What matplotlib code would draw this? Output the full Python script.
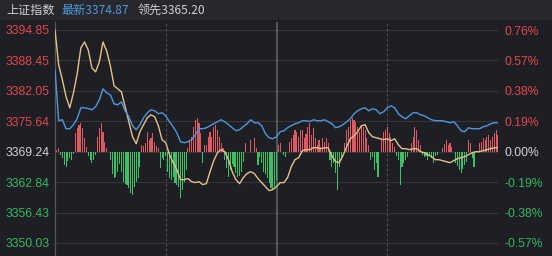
import numpy as np
import matplotlib
matplotlib.use("Agg")
import matplotlib.pyplot as plt
from matplotlib.patches import Rectangle

# ---------------- data ----------------
PREV_CLOSE = 3369.24
PRICE_TICKS = [3394.85, 3388.45, 3382.05, 3375.64, 3369.24, 3362.84, 3356.43, 3350.03]
PCT_TICKS = [0.76, 0.57, 0.38, 0.19, 0.00, -0.19, -0.38, -0.57]

# index (blue) and leading index (yellow), sampled every 2 minutes, 240-minute session
LINE_MINUTES = list(range(0, 241, 2))
index_price = [
    3386.45, 3375.75, 3375.96, 3374.07, 3374.07, 3374.91, 3376.17, 3378.48, 3378.48, 3378.30,
    3378.06, 3378.69, 3380.15, 3382.46, 3381.62, 3381.20, 3379.31, 3379.10, 3379.73, 3377.85,
    3376.59, 3374.70, 3373.86, 3374.91, 3376.38, 3377.43, 3378.06, 3377.85, 3377.22, 3377.43,
    3376.80, 3375.54, 3374.49, 3373.23, 3371.34, 3371.13, 3371.34, 3371.76, 3372.81, 3374.07,
    3374.07, 3374.28, 3374.70, 3375.12, 3375.54, 3375.96, 3375.54, 3374.91, 3374.28, 3373.65,
    3373.86, 3374.49, 3375.12, 3375.96, 3375.33, 3375.33, 3374.70, 3373.02, 3372.18, 3371.97,
    3372.39, 3373.44, 3373.65, 3374.28, 3374.70, 3375.12, 3375.33, 3375.75, 3375.75, 3375.60,
    3375.96, 3375.75, 3375.75, 3375.96, 3375.54, 3375.12, 3374.28, 3374.49, 3374.91, 3375.54,
    3376.17, 3377.22, 3377.85, 3378.27, 3378.48, 3377.85, 3378.27, 3378.06, 3377.22, 3377.64,
    3378.48, 3378.89, 3378.48, 3377.22, 3376.59, 3376.17, 3376.80, 3377.43, 3377.43, 3377.01,
    3376.80, 3376.38, 3375.96, 3375.75, 3375.75, 3375.75, 3375.54, 3375.33, 3375.54, 3374.70,
    3373.65, 3373.44, 3374.28, 3374.07, 3374.07, 3374.07, 3374.49, 3374.70, 3375.12, 3375.33,
    3375.33,
]
leading_price = [
    3394.85, 3387.50, 3384.35, 3380.78, 3378.48, 3381.62, 3385.61, 3391.07, 3392.33, 3390.65,
    3386.87, 3386.03, 3388.13, 3392.33, 3390.44, 3387.29, 3383.09, 3382.46, 3381.83, 3378.69,
    3375.54, 3372.39, 3370.92, 3373.44, 3374.91, 3376.38, 3377.01, 3376.59, 3374.70, 3371.76,
    3371.13, 3368.61, 3366.93, 3365.46, 3363.36, 3363.36, 3363.57, 3362.94, 3362.73, 3362.94,
    3362.31, 3362.52, 3365.04, 3367.35, 3369.03, 3369.66, 3369.24, 3367.56, 3365.04, 3363.36,
    3362.52, 3363.78, 3364.62, 3365.04, 3364.62, 3363.57, 3362.73, 3361.89, 3361.05, 3361.26,
    3361.89, 3362.73, 3362.73, 3363.78, 3366.09, 3367.56, 3367.98, 3369.45, 3369.66, 3369.66,
    3370.08, 3370.08, 3369.87, 3370.08, 3370.08, 3368.40, 3367.14, 3366.93, 3368.40, 3370.29,
    3371.97, 3372.60, 3373.44, 3374.70, 3374.91, 3373.23, 3372.39, 3372.18, 3371.97, 3371.76,
    3371.97, 3371.55, 3371.97, 3370.71, 3369.87, 3369.87, 3369.66, 3369.87, 3369.87, 3369.24,
    3369.03, 3368.61, 3368.19, 3367.56, 3367.56, 3367.35, 3367.14, 3366.93, 3367.35, 3367.77,
    3367.98, 3368.19, 3368.61, 3369.03, 3369.24, 3369.24, 3369.45, 3369.66, 3369.87, 3370.08,
    3370.08,
]

# per-minute buying/selling strength bars (arbitrary units)
BAR_MINUTES = list(range(241))
strength = [
    0, 2, 4, -3, -6, -13, -15, -9, -6, -8,
    -2, 19, 24, 27, 29, 24, 14, 5, -4, -8,
    -11, -8, -3, 15, 24, 29, 20, 10, 4, 0,
    -8, -22, -26, -25, -20, -12, -20, -30, -32, -33,
    -36, -41, -43, -35, -30, -26, -15, 7, 6, 9,
    20, 12, 14, 19, 10, 6, 4, -16, -6, -8,
    -4, -20, -26, -28, -25, -31, -33, -35, -46, -38,
    -30, -18, 4, 12, 15, 25, 32, 34, 29, 19,
    -11, 7, 7, 15, 20, 15, 25, 27, 22, 15,
    9, 4, -8, -16, -25, -18, -12, -15, -21, -25,
    -24, -20, -10, 9, 0, 0, 12, 0, 14, 4,
    -13, -5, -11, -20, -22, -26, -31, -36, -38, -35,
    -28, 7, 9, 0, -3, -5, 0, 10, 14, 17,
    22, 20, 15, 22, 22, 14, 18, 25, 29, 17,
    24, 14, 7, 12, 5, 14, 10, 14, 9, -8,
    -15, -11, -21, -38, -15, -8, 0, 9, 22, 25,
    32, 34, 32, 30, 25, 20, 27, 25, 22, 14,
    7, -8, -5, -18, -11, -25, 0, 12, 20, 22,
    25, 19, 15, 9, 5, -4, -8, -33, -15, -11,
    -8, -5, 0, 9, 15, 25, 22, 12, 7, -3,
    -5, -4, -8, -3, -6, -11, -4, -3, 0, 0,
    4, 8, 12, 7, 9, 5, 0, -11, -14, -18,
    -21, -17, -13, -10, 12, 9, -6, -15, 0, 0,
    9, 10, 14, 12, 15, 17, 12, 15, 19, 22,
    17,
]

TITLE = "上证指数"
LATEST_LABEL = "最新3374.87"
LEAD_LABEL = "领先3365.20"

# ---------------- style ----------------
BG = "#1e1f24"
HEADER_BG = "#27282d"
GRID = "#34353a"
RED = "#e2474f"
GREEN = "#35b860"
NEUTRAL = "#d2d2d2"
BLUE = "#4f97dc"
YELLOW = "#e6c088"
BAR_RED = "#dd5a63"
BAR_GREEN = "#3cc266"
BAR_UNIT = 0.21  # index points per strength unit (display scale)

plt.rcParams["font.family"] = ["Liberation Sans", "Noto Sans CJK SC", "DejaVu Sans"]

W, H = 552, 256
fig = plt.figure(figsize=(W / 100, H / 100), dpi=100, facecolor=BG)
fig.patches.append(Rectangle((0, 1 - 20 / H), 1, 20 / H, transform=fig.transFigure,
                             facecolor=HEADER_BG, edgecolor="none", zorder=0))

ax = fig.add_axes([55 / W, 0, (498 - 55) / W, (256 - 22) / H])
ax.set_facecolor(BG)
ax.set_xlim(0, 240)
ax.set_ylim(3347.29, 3396.53)

# grid
for p in PRICE_TICKS:
    ax.axhline(p, color=GRID, lw=0.8, zorder=1)
ax.axvline(60, color="#505156", lw=0.8, ls=(0, (2.5, 2)), zorder=1)
ax.axvline(120, color="#5c5d62", lw=1.3, zorder=1)
ax.axvline(180, color="#505156", lw=0.8, ls=(0, (2.5, 2)), zorder=1)

# bars
s = np.array(strength, dtype=float)
bx = np.array(BAR_MINUTES)
cols = [BAR_RED if v > 0 else BAR_GREEN for v in s]
ax.bar(bx, s * BAR_UNIT, bottom=PREV_CLOSE, width=0.6, color=cols, linewidth=0,
       antialiased=False, zorder=2)

# lines
ax.plot(LINE_MINUTES, leading_price, color=YELLOW, lw=1.0, zorder=3)
ax.plot(LINE_MINUTES, index_price, color=BLUE, lw=1.0, zorder=4)

# spines
for side in ["top", "right", "bottom"]:
    ax.spines[side].set_visible(False)
ax.spines["left"].set_color("#55565b")
ax.spines["left"].set_linewidth(0.9)
ax.set_xticks([])

def col_for(v, ref):
    if abs(v - ref) < 1e-9:
        return NEUTRAL
    return RED if v > ref else GREEN

ax.set_yticks(PRICE_TICKS)
ax.set_yticklabels([f"{p:.2f}" for p in PRICE_TICKS], fontsize=8.7)
for lab, p in zip(ax.get_yticklabels(), PRICE_TICKS):
    lab.set_color(col_for(p, PREV_CLOSE))
ax.tick_params(axis="y", length=0, pad=4)

ax2 = ax.twinx()
lo, hi = ax.get_ylim()
ax2.set_ylim((lo / PREV_CLOSE - 1) * 100, (hi / PREV_CLOSE - 1) * 100)
ax2.set_yticks(PCT_TICKS)
ax2.set_yticklabels([f"{p:.2f}%" for p in PCT_TICKS], fontsize=8.7)
for lab, p in zip(ax2.get_yticklabels(), PCT_TICKS):
    lab.set_color(col_for(p, 0.0))
ax2.tick_params(axis="y", length=0, pad=5)
for side in ["top", "right", "bottom", "left"]:
    ax2.spines[side].set_visible(False)

# header
hy = 1 - 10.5 / H
fig.text(6 / W, hy, TITLE, color="#d0d0d0", fontsize=8.7, va="center", ha="left",
         family=["Noto Sans CJK SC", "DejaVu Sans"])
fig.text(61 / W, hy, LATEST_LABEL, color=BLUE, fontsize=8.7, va="center", ha="left",
         family=["Noto Sans CJK SC", "DejaVu Sans"])
fig.text(138 / W, hy, LEAD_LABEL, color="#cfcfcf", fontsize=8.7, va="center", ha="left",
         family=["Noto Sans CJK SC", "DejaVu Sans"])

fig.savefig("out.png", dpi=100, facecolor=BG)
